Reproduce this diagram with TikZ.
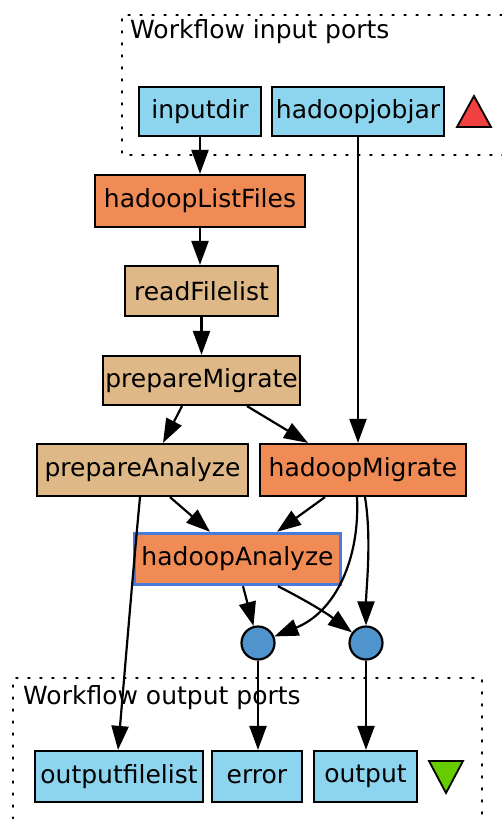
\documentclass[tikz,border=0pt]{standalone}
\usepackage{fontspec}
\setmainfont{DejaVu Sans}
\usetikzlibrary{arrows.meta,calc}
\definecolor{portblue}{HTML}{8DD5EE}
\definecolor{procorange}{HTML}{F08B56}
\definecolor{proctan}{HTML}{DEB887}
\definecolor{mergeblue}{HTML}{4F94CD}
\definecolor{selblue}{HTML}{4A7BDB}
\definecolor{trired}{HTML}{F04040}
\definecolor{trigreen}{HTML}{66CC00}
\tikzset{
  lbl/.style={font=\fontsize{25}{29}\selectfont, inner sep=0pt},
  box/.style={draw=black, line width=2.2pt, rectangle, inner sep=0pt, font=\fontsize{25}{29}\selectfont},
  portbox/.style={box, fill=portblue},
  orangebox/.style={box, fill=procorange},
  tanbox/.style={box, fill=proctan},
  merge/.style={circle, draw=black, line width=2.2pt, fill=mergeblue, minimum size=33pt, inner sep=0pt},
  cluster/.style={line width=1.8pt, dash pattern=on 1.8pt off 10.2pt, line cap=round},
  edge/.style={line width=2.2pt, -{Triangle[length=24pt,width=17pt]}},
  tri/.style={draw=black, line width=1.8pt},
}
\begin{document}
\begin{tikzpicture}[x=1pt,y=-1pt]
\useasboundingbox (0,0) rectangle (502,819);
% clusters
\draw[cluster] (502,15) -- (122,15) -- (122,155) -- (502,155);
\node[lbl, anchor=west] (inlbl) at (130,32) {Workflow input ports};
\draw[cluster] (13,819) -- (13,678) -- (482,678) -- (482,819);
\node[lbl, anchor=west] (outlbl) at (23,698) {Workflow output ports};

% input ports
\node[portbox, minimum width=122pt, minimum height=49pt] (inputdir) at (200,111.5) {inputdir};
\node[portbox, minimum width=172pt, minimum height=49pt] (jar) at (358,111.5) {hadoopjobjar};
\filldraw[tri, fill=trired] (457,127) -- (491,127) -- (474,96) -- cycle;

% processors
\node[orangebox, minimum width=210pt, minimum height=52pt] (hlf) at (200,201) {hadoopListFiles};
\node[tanbox, minimum width=153pt, minimum height=50pt] (rfl) at (201.5,291) {readFilelist};
\node[tanbox, minimum width=197pt, minimum height=49pt] (pm) at (201.5,380.5) {prepareMigrate};
\node[tanbox, minimum width=211pt, minimum height=52pt] (pa) at (142.5,470) {prepareAnalyze};
\node[orangebox, minimum width=206pt, minimum height=52pt] (hm) at (363,470) {hadoopMigrate};
\node[box, draw=selblue, line width=3.4pt, fill=procorange, minimum width=206pt, minimum height=51pt] (ha) at (237.5,559) {hadoopAnalyze};

% merge points
\node[merge] (m1) at (258,643) {};
\node[merge] (m2) at (366,643) {};

% output ports
\node[portbox, minimum width=168pt, minimum height=51pt] (ofl) at (119,776.5) {outputfilelist};
\node[portbox, minimum width=90pt, minimum height=51pt] (err) at (257,776.5) {error};
\node[portbox, minimum width=103pt, minimum height=51pt] (out) at (365.5,776.5) {output};
\filldraw[tri, fill=trigreen] (429,761) -- (463,761) -- (446,793) -- cycle;

% edges
\draw[edge] (inputdir.south) -- (hlf.north);
\draw[edge] (jar.south) -- ([xshift=-5pt]hm.north);
\draw[edge] (hlf.south) -- ([xshift=-1.5pt]rfl.north);
\draw[edge] (rfl.south) -- (pm.north);
\draw[edge] ([xshift=-19.5pt]pm.south) -- ([xshift=20.5pt]pa.north);
\draw[edge] ([xshift=45.5pt]pm.south) -- ([xshift=-55pt]hm.north);
\draw[edge] ([xshift=27.5pt]pa.south) -- ([xshift=-27.5pt]ha.north);
\draw[edge] ([xshift=-38pt]hm.south) -- ([xshift=39.5pt]ha.north);
\draw[edge] ([xshift=-2.5pt]pa.south) .. controls (134,560) and (124,680) .. ([xshift=-1pt]ofl.north);
\draw[edge] ([xshift=5.5pt]ha.south) -- (m1);
\draw[edge] ([xshift=40.5pt]ha.south) .. controls (305,600) and (325,612) .. (m2);
\draw[edge] ([xshift=-6pt]hm.south) .. controls (360,560) and (335,612) .. (m1);
\draw[edge] ([xshift=2pt]hm.south) .. controls (372,540) and (366,590) .. (m2);
\draw[edge] (m1) -- (m1 |- err.north);
\draw[edge] (m2) -- (m2 |- out.north);
\end{tikzpicture}
\end{document}
